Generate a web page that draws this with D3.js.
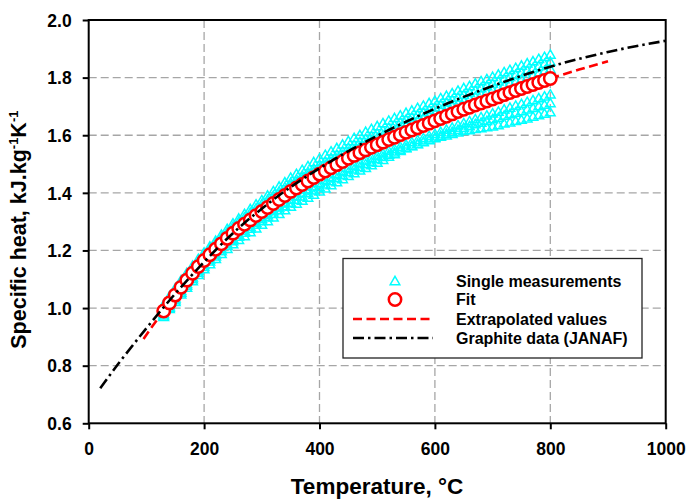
<!DOCTYPE html>
<html>
<head>
<meta charset="utf-8">
<script src="https://cdn.jsdelivr.net/npm/d3@7"></script>
<style>
  html, body { margin: 0; padding: 0; background: #fff; }
  svg { display: block; }
  text { font-family: "Liberation Sans", Arial, sans-serif; font-weight: bold; fill: #000; }
</style>
</head>
<body>
<svg id="chart" width="689" height="499"></svg>
<script>
// Temperatures (°C) of the fitted points and of the single measurement runs
const temps = d3.range(130, 801, 10);

// Fitted specific heat, kJ/(kg·K)
const fitCp = [
  0.990,1.018,1.045,1.072,1.097,1.121,1.144,1.165,1.185,1.204,
  1.223,1.242,1.260,1.276,1.291,1.306,1.321,1.335,1.349,1.363,
  1.377,1.391,1.405,1.417,1.429,1.441,1.453,1.465,1.476,1.487,
  1.498,1.509,1.520,1.530,1.539,1.549,1.558,1.567,1.576,1.585,
  1.593,1.602,1.610,1.618,1.626,1.634,1.642,1.650,1.658,1.666,
  1.674,1.682,1.690,1.697,1.705,1.712,1.719,1.726,1.733,1.741,
  1.748,1.755,1.762,1.769,1.776,1.783,1.790,1.797
];

// Single measurement runs
const run1 = [
  1.012,1.041,1.069,1.097,1.122,1.147,1.171,1.193,1.214,1.234,
  1.255,1.275,1.294,1.311,1.327,1.344,1.360,1.375,1.391,1.406,
  1.422,1.437,1.453,1.466,1.480,1.493,1.507,1.520,1.532,1.544,
  1.556,1.568,1.580,1.591,1.601,1.612,1.622,1.632,1.642,1.651,
  1.660,1.669,1.678,1.686,1.695,1.703,1.712,1.720,1.729,1.737,
  1.746,1.755,1.764,1.771,1.780,1.788,1.795,1.803,1.811,1.819,
  1.827,1.834,1.842,1.850,1.857,1.865,1.872,1.880
];
const run2 = [
  1.005,1.034,1.061,1.089,1.115,1.139,1.163,1.185,1.206,1.225,
  1.245,1.264,1.283,1.300,1.315,1.331,1.346,1.361,1.376,1.390,
  1.405,1.420,1.435,1.447,1.460,1.473,1.485,1.498,1.510,1.521,
  1.533,1.545,1.557,1.567,1.577,1.588,1.597,1.607,1.617,1.626,
  1.635,1.645,1.654,1.662,1.671,1.680,1.688,1.697,1.706,1.714,
  1.723,1.731,1.740,1.748,1.756,1.764,1.771,1.779,1.787,1.795,
  1.803,1.810,1.818,1.825,1.833,1.840,1.848,1.855
];
const run3 = [
  1.000,1.028,1.056,1.083,1.108,1.132,1.156,1.177,1.197,1.217,
  1.236,1.255,1.274,1.290,1.305,1.320,1.336,1.350,1.365,1.379,
  1.394,1.408,1.423,1.435,1.448,1.460,1.473,1.485,1.496,1.508,
  1.519,1.531,1.542,1.552,1.562,1.572,1.582,1.591,1.600,1.610,
  1.618,1.627,1.636,1.644,1.652,1.660,1.669,1.677,1.685,1.694,
  1.702,1.710,1.719,1.726,1.734,1.741,1.749,1.756,1.763,1.772,
  1.779,1.786,1.794,1.801,1.808,1.815,1.823,1.830
];
const run4 = [
  0.980,1.007,1.034,1.060,1.084,1.107,1.130,1.150,1.169,1.187,
  1.205,1.223,1.240,1.255,1.269,1.283,1.297,1.310,1.323,1.337,
  1.350,1.364,1.377,1.389,1.400,1.412,1.423,1.435,1.445,1.455,
  1.466,1.476,1.486,1.495,1.503,1.513,1.521,1.529,1.537,1.546,
  1.553,1.561,1.568,1.576,1.583,1.590,1.598,1.605,1.612,1.620,
  1.627,1.635,1.642,1.649,1.656,1.663,1.669,1.676,1.682,1.690,
  1.696,1.703,1.709,1.716,1.722,1.729,1.735,1.742
];
const run5 = [
  0.975,1.002,1.028,1.054,1.078,1.101,1.123,1.143,1.162,1.180,
  1.198,1.216,1.233,1.248,1.262,1.276,1.290,1.303,1.316,1.328,
  1.341,1.354,1.366,1.377,1.388,1.399,1.409,1.420,1.430,1.441,
  1.451,1.462,1.472,1.482,1.490,1.500,1.508,1.517,1.525,1.533,
  1.541,1.549,1.556,1.563,1.570,1.578,1.585,1.592,1.599,1.606,
  1.612,1.619,1.626,1.632,1.639,1.644,1.650,1.656,1.661,1.668,
  1.673,1.679,1.684,1.690,1.695,1.701,1.706,1.712
];
const run6 = [
  0.970,0.997,1.022,1.048,1.071,1.094,1.115,1.135,1.153,1.171,
  1.188,1.206,1.222,1.237,1.250,1.264,1.277,1.290,1.302,1.315,
  1.327,1.340,1.352,1.363,1.373,1.384,1.394,1.405,1.416,1.427,
  1.437,1.448,1.459,1.469,1.478,1.487,1.496,1.505,1.515,1.526,
  1.535,1.546,1.555,1.562,1.569,1.576,1.583,1.590,1.595,1.600,
  1.605,1.610,1.615,1.618,1.622,1.625,1.628,1.631,1.635,1.641,
  1.645,1.650,1.654,1.659,1.665,1.670,1.675,1.680
];
const runs = [run1, run2, run3, run4, run5, run6];

// Extrapolation of the fit below and above the measured range
const extraLowT  = [95, 110, 130];
const extraLowCp = [0.893, 0.936, 0.990];
const extraHighT  = [800, 850, 900];
const extraHighCp = [1.797, 1.828, 1.857];

// Graphite reference data (JANAF)
const janafT  = [20, 50, 100, 150, 200, 250, 300, 350, 400, 450, 500, 600, 700, 800, 900, 1000];
const janafCp = [0.722, 0.803, 0.930, 1.050, 1.160, 1.260, 1.345, 1.420, 1.485, 1.545, 1.598, 1.692, 1.771, 1.838, 1.889, 1.928];

// Axis ticks
const xTicks = [0, 200, 400, 600, 800, 1000];
const yTicks = [0.6, 0.8, 1.0, 1.2, 1.4, 1.6, 1.8, 2.0];

const legendLabels = ["Single measurements", "Fit", "Extrapolated values", "Graphite data (JANAF)"];

// ---- layout ----
const svg = d3.select("#chart");
const plotL = 88.7, plotR = 665.7, plotT = 20, plotB = 423.3;

const x = d3.scaleLinear().domain([0, 1000]).range([plotL, plotR]);
const y = d3.scaleLinear().domain([0.6, 2.0]).range([plotB, plotT]);

const CYAN = "#00ffff", RED = "#ff0000";
const janafDash = "11,4,2.5,4";
const extraDash = "9,4.5";
const circleR = 6.2, circleW = 2.5;
const triSize = 40, triW = 1.5;

// grid
const grid = svg.append("g").attr("stroke", "#a6a6a6").attr("stroke-width", 1.3)
  .attr("stroke-dasharray", "8,4");
grid.selectAll("line.gx").data(xTicks.filter(t => t > 0 && t < 1000)).join("line")
  .attr("x1", d => x(d)).attr("x2", d => x(d)).attr("y1", plotT).attr("y2", plotB);
grid.selectAll("line.gy").data(yTicks.filter(t => t > 0.6 && t < 2.0)).join("line")
  .attr("y1", d => y(d)).attr("y2", d => y(d)).attr("x1", plotL).attr("x2", plotR);

// measurement triangles
const tri = d3.symbol().type(d3.symbolTriangle).size(triSize);
const gMeas = svg.append("g");
runs.forEach(run => {
  gMeas.append("g").selectAll("path").data(run.map((v, i) => [temps[i], v])).join("path")
    .attr("d", tri)
    .attr("transform", d => `translate(${x(d[0])},${y(d[1]) + 0.9})`)
    .attr("fill", "none").attr("stroke", CYAN).attr("stroke-width", triW);
});

// extrapolated values
const line = d3.line().x(d => x(d[0])).y(d => y(d[1]));
[[extraLowT, extraLowCp], [extraHighT, extraHighCp]].forEach(([ts, cs]) => {
  svg.append("path").datum(ts.map((t, i) => [t, cs[i]]))
    .attr("d", line).attr("fill", "none").attr("stroke", RED)
    .attr("stroke-width", 2.6).attr("stroke-dasharray", extraDash);
});

// fit circles
svg.append("g").selectAll("circle").data(temps.map((t, i) => [t, fitCp[i]])).join("circle")
  .attr("cx", d => x(d[0])).attr("cy", d => y(d[1])).attr("r", circleR)
  .attr("fill", "#fff").attr("stroke", RED).attr("stroke-width", circleW);

// JANAF curve
const smooth = d3.line().x(d => x(d[0])).y(d => y(d[1])).curve(d3.curveMonotoneX);
svg.append("path").datum(janafT.map((t, i) => [t, janafCp[i]]))
  .attr("d", smooth).attr("fill", "none").attr("stroke", "#000")
  .attr("stroke-width", 2.6).attr("stroke-dasharray", janafDash);

// axes
const xAxis = svg.append("g").attr("transform", `translate(0,${plotB})`)
  .call(d3.axisBottom(x).tickValues(xTicks).tickFormat(d3.format("d")).tickSize(6).tickSizeOuter(0).tickPadding(13));
const yAxis = svg.append("g").attr("transform", `translate(${plotL},0)`)
  .call(d3.axisLeft(y).tickValues(yTicks).tickFormat(d3.format(".1f")).tickSize(6).tickSizeOuter(0).tickPadding(11));
[xAxis, yAxis].forEach(a => {
  a.select(".domain").remove();
  a.selectAll(".tick line").attr("stroke", "#000").attr("stroke-width", 2);
  a.selectAll(".tick text").attr("font-size", 17.5).attr("font-family", "Liberation Sans, Arial, sans-serif")
    .attr("font-weight", "bold").attr("fill", "#000");
});
yAxis.selectAll(".tick text").attr("dy", "0.36em");

// frame
svg.append("rect").attr("x", plotL).attr("y", plotT).attr("width", plotR - plotL).attr("height", plotB - plotT)
  .attr("fill", "none").attr("stroke", "#000").attr("stroke-width", 2);

// axis titles
svg.append("text").attr("x", 377).attr("y", 494)
  .attr("text-anchor", "middle").attr("font-size", 22.5).text("Temperature, °C");

const yt = svg.append("text").attr("transform", `translate(26,${(plotT + plotB) / 2 + 8}) rotate(-90)`)
  .attr("text-anchor", "middle").attr("font-size", 21.5);
yt.append("tspan").text("Specific heat, kJ.kg");
yt.append("tspan").attr("font-size", 13).attr("dy", -8.5).text("-1");
yt.append("tspan").attr("dy", 8.5).text("K");
yt.append("tspan").attr("font-size", 13).attr("dy", -8.5).text("-1");

// legend
const lg = svg.append("g");
lg.append("rect").attr("x", 343).attr("y", 258.5).attr("width", 299).attr("height", 99.5)
  .attr("fill", "#fff").attr("stroke", "#222").attr("stroke-width", 1.3);
const rowY = [281, 299.5, 319, 338];
const symX = 395, txtX = 456;
lg.append("path").attr("d", tri).attr("transform", `translate(${symX},${rowY[0] + 0.9})`)
  .attr("fill", "none").attr("stroke", CYAN).attr("stroke-width", triW);
lg.append("circle").attr("cx", symX).attr("cy", rowY[1]).attr("r", circleR)
  .attr("fill", "#fff").attr("stroke", RED).attr("stroke-width", circleW);
lg.append("line").attr("x1", 353).attr("x2", 433).attr("y1", rowY[2]).attr("y2", rowY[2])
  .attr("stroke", RED).attr("stroke-width", 2.6).attr("stroke-dasharray", extraDash);
lg.append("line").attr("x1", 353).attr("x2", 433).attr("y1", rowY[3]).attr("y2", rowY[3])
  .attr("stroke", "#000").attr("stroke-width", 2.6).attr("stroke-dasharray", janafDash);
lg.selectAll("text").data(legendLabels).join("text")
  .attr("x", txtX).attr("y", (d, i) => rowY[i] + 5.5).attr("font-size", 16).text(d => d);
</script>
</body>
</html>
